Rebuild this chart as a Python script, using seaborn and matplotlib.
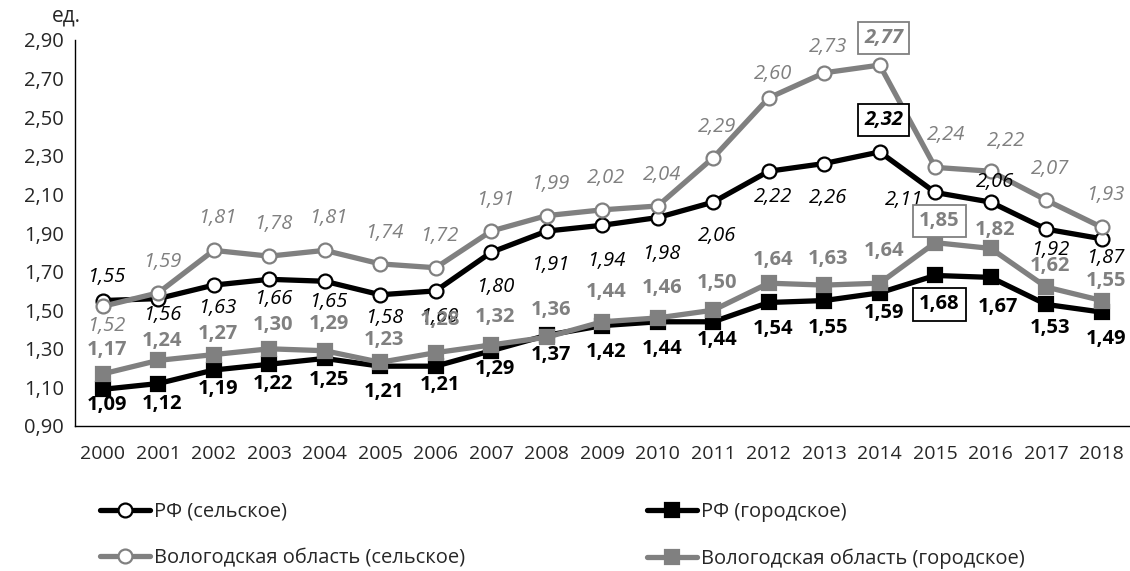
import numpy as np
import pandas as pd
import seaborn as sns
import matplotlib.pyplot as plt

# data
years = list(range(2000, 2019))
rf_rural = [1.55, 1.56, 1.63, 1.66, 1.65, 1.58, 1.60, 1.80, 1.91, 1.94, 1.98,
            2.06, 2.22, 2.26, 2.32, 2.11, 2.06, 1.92, 1.87]
rf_urban = [1.09, 1.12, 1.19, 1.22, 1.25, 1.21, 1.21, 1.29, 1.37, 1.42, 1.44,
            1.44, 1.54, 1.55, 1.59, 1.68, 1.67, 1.53, 1.49]
vo_rural = [1.52, 1.59, 1.81, 1.78, 1.81, 1.74, 1.72, 1.91, 1.99, 2.02, 2.04,
            2.29, 2.60, 2.73, 2.77, 2.24, 2.22, 2.07, 1.93]
vo_urban = [1.17, 1.24, 1.27, 1.30, 1.29, 1.23, 1.28, 1.32, 1.36, 1.44, 1.46,
            1.50, 1.64, 1.63, 1.64, 1.85, 1.82, 1.62, 1.55]
names = ["РФ (сельское)", "РФ (городское)",
         "Вологодская область (сельское)", "Вологодская область (городское)"]
yticks = np.arange(0.9, 2.91, 0.2)

# label offsets (pixels, + = down)
dy_rf_rural = [-24, 16, 23, 20, 21, 23, 26, 35, 34, 36, 36, 34, 26, 34, -32, 8, -20, 21, 19]
dy_rf_urban = [16, 20, 19, 20, 22, 26, 19, 18, 20, 26, 27, 18, 27, 27, 20, 29, 30, 24, 27]
dy_vo_rural = [20, -31, -32, -32, -32, -31, -32, -31, -32, -32, -31, -31, -24, -26, -27, -32, -30, -31, -32]
dy_vo_urban = [-24, -19, -21, -24, -27, -22, -33, -28, -27, -30, -30, -27, -23, -26, -32, -22, -18, -21, -20]
dx_special = {(0, 15): -31, (2, 15): 11, (2, 16): 15, (1, 16): 7}

sns.set_theme(style="white")
plt.rcParams['font.family'] = ['Open Sans', 'DejaVu Sans']

fig = plt.figure(figsize=(11.3, 5.71), dpi=100)
ax = fig.add_axes([75 / 1130, 1 - 426 / 571, 1 - 75 / 1130 - 0.0005, (426 - 40) / 571])

GRAY = "#808080"
series = [rf_rural, rf_urban, vo_rural, vo_urban]
colors = ["black", "black", GRAY, GRAY]
markers = ["o", "s", "o", "s"]
offsets = [dy_rf_rural, dy_rf_urban, dy_vo_rural, dy_vo_urban]

for i, vals in enumerate(series):
    df = pd.DataFrame({"year": years, "value": vals})
    rural = markers[i] == "o"
    sns.lineplot(data=df, x="year", y="value", ax=ax, color=colors[i],
                 linewidth=3.8, marker=markers[i],
                 markersize=10 if rural else 9.5,
                 markerfacecolor="white" if rural else colors[i],
                 markeredgecolor=colors[i], markeredgewidth=1.6,
                 label=names[i], zorder=3 + i)
    imax = int(np.argmax(vals))
    for j, (yr, v) in enumerate(zip(years, vals)):
        dx = dx_special.get((i, j), 4)
        boxed = j == imax
        txt = f"{v:.2f}".replace(".", ",")
        kw = dict(fontsize=14.5, color=colors[i], ha="center", va="center",
                  style="italic" if rural else "normal",
                  weight="normal" if rural and not boxed else "bold",
                  zorder=10)
        if boxed:
            kw["bbox"] = dict(boxstyle="square,pad=0.3", fc="white",
                              ec=colors[i], lw=1.3)
        ax.annotate(txt, (yr, v), xytext=(dx, -offsets[i][j]),
                    textcoords="offset pixels", **kw)

ax.set_xlim(years[0] - 0.5, years[-1] + 0.5)
ax.set_ylim(0.9, 2.9)
ax.set_xticks(years)
ax.set_xticklabels([str(y) for y in years], fontsize=14)
ax.set_xticks(np.arange(years[0] - 0.5, years[-1] + 0.6, 1), minor=True)
ax.tick_params(axis="x", which="major", length=0, pad=14)
ax.tick_params(axis="x", which="minor", length=6, width=1, color="black", direction="out")
ax.set_yticks(yticks)
ax.set_yticklabels([f"{t:.2f}".replace(".", ",") for t in yticks], fontsize=14.5)
ax.tick_params(axis="y", length=5, width=1, color="black", direction="out", pad=3)
ax.set_xlabel("")
ax.set_ylabel("")
for s in ["top", "right"]:
    ax.spines[s].set_visible(False)
for s in ["left", "bottom"]:
    ax.spines[s].set_color("black")
    ax.spines[s].set_linewidth(1)

fig.text(52 / 1130, 1 - 16 / 571, "ед.", fontsize=15, ha="left", va="center")

handles, labels = ax.get_legend_handles_labels()
ax.get_legend().remove()
order = [0, 2, 1, 3]
fig.legend([handles[k] for k in order], [labels[k] for k in order], ncol=2,
           loc="upper left", frameon=False,
           bbox_to_anchor=(100 / 1130, 1 - 502 / 571), borderaxespad=0,
           borderpad=0, fontsize=14.5, handlelength=2.5, handletextpad=0.2,
           labelspacing=1.3, columnspacing=9.0)

fig.savefig("out.png", dpi=100)
